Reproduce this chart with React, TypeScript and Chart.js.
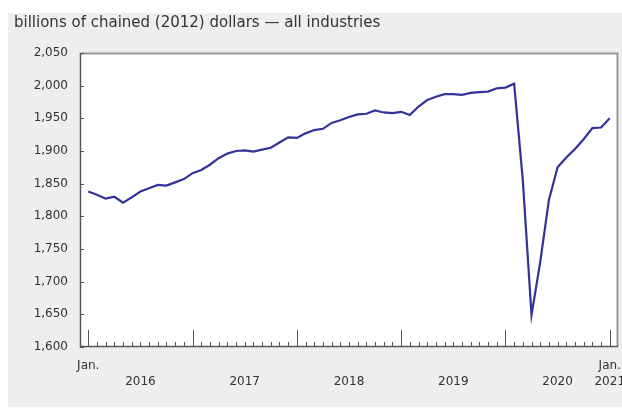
import React, { useEffect, useRef } from "react";
import { Chart, registerables } from "chart.js";

Chart.register(...registerables);

const TITLE = "billions of chained (2012) dollars \u2014 all industries";

// Monthly, January 2016 to January 2021
const months: string[] = [];
for (let y = 2016; y <= 2021; y++) {
  for (let m = 1; m <= 12; m++) {
    if (y === 2021 && m > 1) break;
    months.push(`${y}-${String(m).padStart(2, "0")}`);
  }
}

const gdpValues = [
  1838, 1833, 1827, 1830, 1821, 1829, 1838, 1843, 1848, 1847, 1852, 1857,
  1866, 1871, 1879, 1889, 1896, 1900, 1901, 1899, 1902, 1905, 1913, 1921,
  1920, 1927, 1932, 1934, 1943, 1947, 1952, 1956, 1957, 1962, 1959, 1958,
  1960, 1955, 1968, 1978, 1983, 1987, 1987, 1986, 1989, 1990, 1991, 1996,
  1997, 2003, 1855, 1649, 1730, 1825, 1875, 1890, 1903, 1918, 1935, 1936,
  1950,
];

const yTickValues = [1600, 1650, 1700, 1750, 1800, 1850, 1900, 1950, 2000, 2050];
const yTickLabels = ["1,600", "1,650", "1,700", "1,750", "1,800", "1,850", "1,900", "1,950", "2,000", "2,050"];

const xTickPositions = [0, 6, 18, 30, 42, 54, 60];
const xTickLabels: string[][] = [
  ["Jan.", ""],
  ["", "2016"],
  ["", "2017"],
  ["", "2018"],
  ["", "2019"],
  ["", "2020"],
  ["Jan.", "2021"],
];

const FONT = "'DejaVu Sans', Verdana, sans-serif";
const TEXT_COLOR = "#333333";
const LINE_COLOR = "#32329a";

const framePlugin = {
  id: "frame",
  beforeDraw(chart: any) {
    const { ctx, chartArea } = chart;
    ctx.save();
    ctx.fillStyle = "#eeeeee";
    ctx.fillRect(0, 0, chart.width, chart.height);
    ctx.fillStyle = "#ffffff";
    ctx.fillRect(chartArea.left, chartArea.top, chartArea.right - chartArea.left, chartArea.bottom - chartArea.top);
    // title
    ctx.fillStyle = TEXT_COLOR;
    ctx.font = `15px ${FONT}`;
    ctx.textBaseline = "middle";
    ctx.textAlign = "left";
    ctx.fillText(TITLE, 6, 10);
    ctx.restore();
  },
  afterDraw(chart: any) {
    const { ctx, chartArea, scales } = chart;
    const { left, right, top, bottom } = chartArea;
    ctx.save();
    // light top/right border
    ctx.strokeStyle = "#999999";
    ctx.lineWidth = 2;
    ctx.beginPath();
    ctx.moveTo(left, top + 0.5);
    ctx.lineTo(right - 0.5, top + 0.5);
    ctx.lineTo(right - 0.5, bottom);
    ctx.stroke();
    // axes
    ctx.strokeStyle = "#555555";
    ctx.lineWidth = 1.5;
    ctx.beginPath();
    ctx.moveTo(left + 0.5, top);
    ctx.lineTo(left + 0.5, bottom - 0.5);
    ctx.lineTo(right, bottom - 0.5);
    ctx.stroke();
    // y ticks (inward)
    ctx.lineWidth = 1;
    ctx.strokeStyle = "#555555";
    ctx.beginPath();
    for (const v of yTickValues) {
      const py = Math.round(scales.y.getPixelForValue(v)) + 0.5;
      ctx.moveTo(left, py);
      ctx.lineTo(left + 4, py);
    }
    // x ticks (inward): monthly minor, January major
    for (let i = 0; i < months.length; i++) {
      const px = Math.round(scales.x.getPixelForValue(i)) + 0.5;
      const len = i % 12 === 0 ? 17 : 5;
      ctx.moveTo(px, bottom);
      ctx.lineTo(px, bottom - len);
    }
    ctx.stroke();
    ctx.restore();
  },
};

export default function App() {
  const canvasRef = useRef<HTMLCanvasElement | null>(null);

  useEffect(() => {
    if (!canvasRef.current) return;
    const chart = new Chart(canvasRef.current, {
      type: "line",
      data: {
        labels: months,
        datasets: [
          {
            label: "all industries",
            data: gdpValues.map((v, i) => ({ x: i, y: v })),
            borderColor: LINE_COLOR,
            borderWidth: 2.2,
            pointRadius: 0,
            tension: 0,
            fill: false,
          },
        ],
      },
      options: {
        animation: false,
        responsive: false,
        layout: { padding: { top: 40, right: 4, left: 0, bottom: 0 } },
        plugins: {
          legend: { display: false },
          tooltip: { enabled: false },
          title: { display: false },
        },
        scales: {
          x: {
            type: "linear",
            min: -0.95,
            max: 60.95,
            afterBuildTicks: (s: any) => {
              s.ticks = xTickPositions.map((v) => ({ value: v }));
            },
            afterFit: (s: any) => {
              s.height = 60;
              s.paddingLeft = 0;
              s.paddingRight = 0;
            },
            ticks: {
              autoSkip: false,
              maxRotation: 0,
              minRotation: 0,
              padding: 11,
              color: TEXT_COLOR,
              font: { family: FONT, size: 12, lineHeight: 16 / 12 },
              callback: (value: any) => {
                const idx = xTickPositions.indexOf(Number(value));
                return idx >= 0 ? xTickLabels[idx] : "";
              },
            },
            grid: { display: false, drawTicks: false },
            border: { display: false },
          },
          y: {
            min: 1600,
            max: 2050,
            afterBuildTicks: (s: any) => {
              s.ticks = yTickValues.map((v) => ({ value: v }));
            },
            afterFit: (s: any) => {
              s.width = 72;
              s.paddingTop = 0;
              s.paddingBottom = 0;
            },
            ticks: {
              padding: 12,
              color: TEXT_COLOR,
              font: { family: FONT, size: 12 },
              callback: (value: any) => {
                const idx = yTickValues.indexOf(Number(value));
                return idx >= 0 ? yTickLabels[idx] : "";
              },
            },
            grid: { display: false, drawTicks: false },
            border: { display: false },
          },
        },
      },
      plugins: [framePlugin],
    });
    return () => chart.destroy();
  }, []);

  return (
    <div style={{ position: "fixed", left: 8, top: 13, width: 614, height: 394 }}>
      <canvas ref={canvasRef} width={614} height={394} style={{ display: "block" }} />
    </div>
  );
}
